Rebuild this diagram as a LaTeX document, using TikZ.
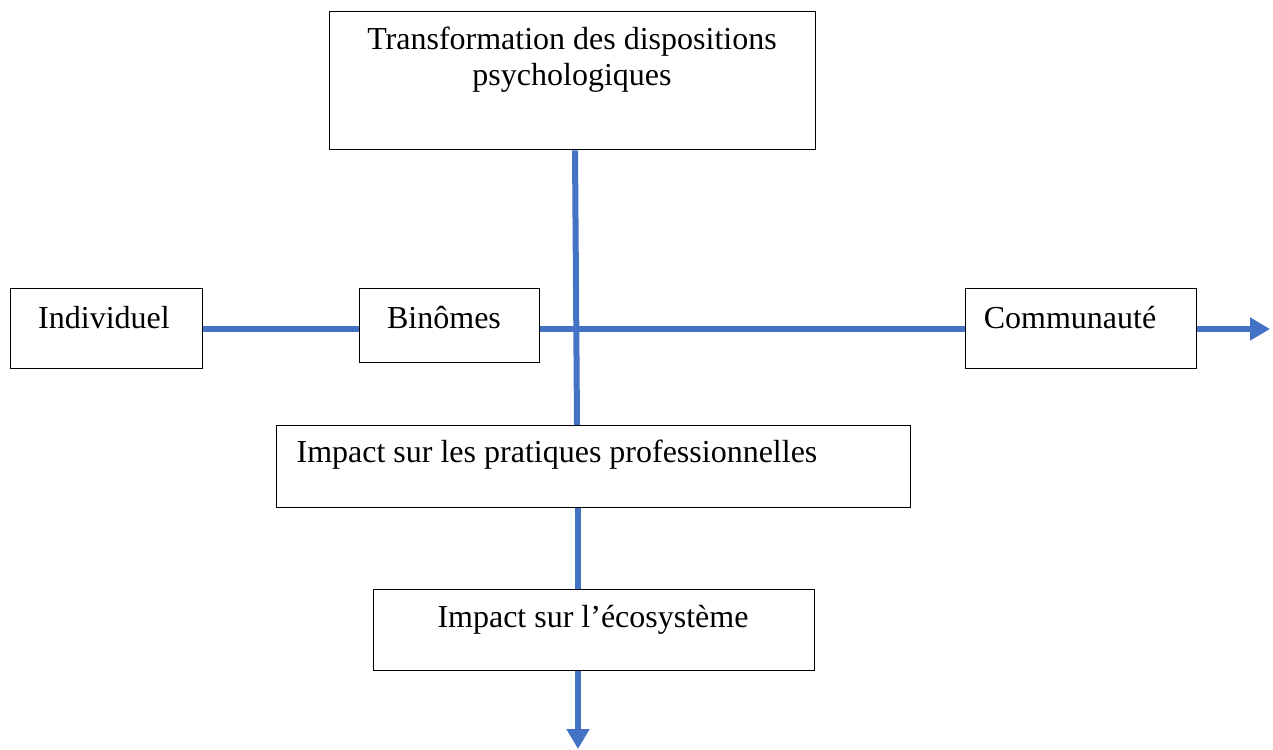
\documentclass[tikz,border=0pt]{standalone}
\usepackage{fontspec}
\setmainfont{Liberation Serif}
\usetikzlibrary{arrows.meta,calc}
\definecolor{conn}{HTML}{4472C4}
\tikzset{
  box/.style={draw=black,line width=1.3pt,inner sep=0pt,anchor=north west},
  lbl/.style={inner sep=0pt,font=\fontsize{32}{36}\selectfont,align=center},
  link/.style={draw=conn,line width=6pt},
  arr/.style={link,-{Triangle[length=20pt,width=22pt]}}
}
\begin{document}
\begin{tikzpicture}[x=1pt,y=-1pt]
\useasboundingbox (0,0) rectangle (1273,749);
% boxes
\node[box,minimum width=486pt,minimum height=138pt] (top) at (329,11) {};
\node[box,minimum width=192pt,minimum height=80pt] (ind) at (10,288) {};
\node[box,minimum width=180pt,minimum height=74pt] (bin) at (359,288) {};
\node[box,minimum width=231pt,minimum height=80pt] (com) at (965,288) {};
\node[box,minimum width=634pt,minimum height=82pt] (pro) at (276,425) {};
\node[box,minimum width=441pt,minimum height=81pt] (eco) at (373,589) {};
% labels
\node[lbl] (tTop) at (572,60) {Transformation des dispositions\\psychologiques};
\node[lbl] (tInd) at (104,318) {Individuel};
\node[lbl] (tBin) at (444,318) {Binômes};
\node[lbl] (tCom) at (1070,318) {Communauté};
\node[lbl] (tPro) at (557,455) {Impact sur les pratiques professionnelles};
\node[lbl] (tEco) at (593,620) {Impact sur l’écosystème};
% connector coordinates
\coordinate (v1) at (575,149);
\coordinate (v2) at (577,425);
\coordinate (v3) at (578,507);
\coordinate (v4) at (578,589);
\coordinate (v5) at (578,670);
\coordinate (v6) at (578,749);
\coordinate (hEnd) at (1270,329);
% connectors
\draw[link] (ind.east |- 0,329) -- (bin.west |- 0,329);
\draw[link] (bin.east |- 0,329) -- (com.west |- 0,329);
\draw[arr] (com.east |- 0,329) -- (hEnd);
\draw[link] (top.south -| v1) -- (pro.north -| v2);
\draw[link] (pro.south -| v3) -- (eco.north -| v4);
\draw[arr] (eco.south -| v5) -- (v6);
\end{tikzpicture}
\end{document}
